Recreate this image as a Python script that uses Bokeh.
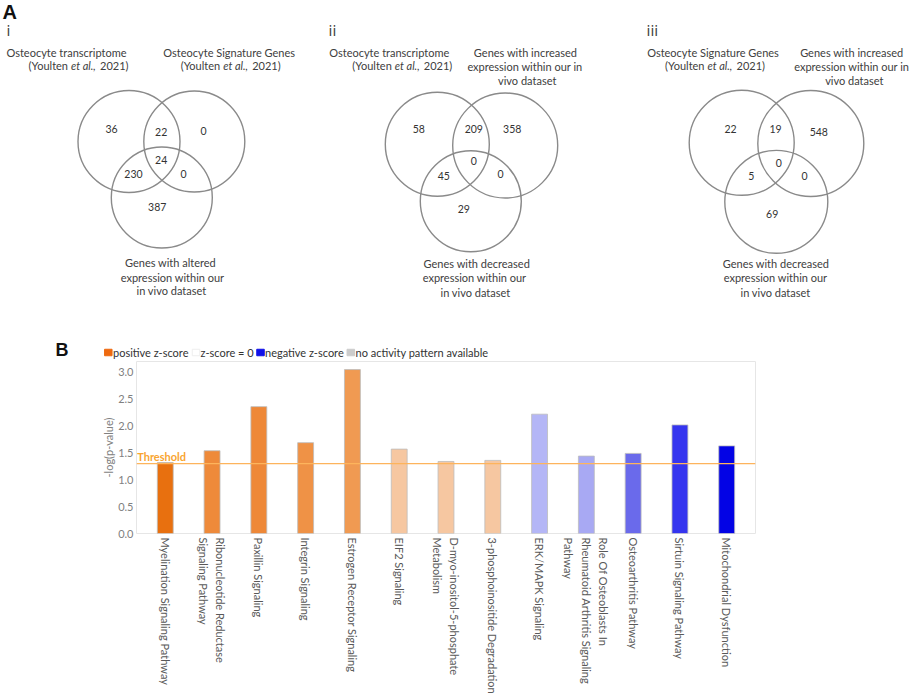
from bokeh.plotting import figure
from bokeh.models import Range1d, FactorRange, FixedTicker, PrintfTickFormatter, Span, Label, ColumnDataSource
from bokeh.core.properties import value
from bokeh.embed import file_html
from bokeh.resources import INLINE

# ---------------- data ----------------
# Venn region counts: [A only, A&B, B only, A&B&C, A&C, B&C, C only]
venn_i_counts = [36, 22, 0, 24, 230, 0, 387]
venn_ii_counts = [58, 209, 358, 0, 45, 0, 29]
venn_iii_counts = [22, 19, 548, 0, 5, 0, 69]

venn_i_sets = ["Osteocyte transcriptome", "Osteocyte Signature Genes",
               "Genes with altered\nexpression within our\nin vivo dataset"]
venn_ii_sets = ["Osteocyte transcriptome", "Genes with increased\nexpression within our in\nvivo dataset",
                "Genes with decreased\nexpression within our\nin vivo dataset"]
venn_iii_sets = ["Osteocyte Signature Genes", "Genes with increased\nexpression within our in\nvivo dataset",
                 "Genes with decreased\nexpression within our\nin vivo dataset"]

pathways = [
    "Myelination Signaling Pathway",
    "Ribonucleotide Reductase\nSignaling Pathway",
    "Paxillin Signaling",
    "Integrin Signaling",
    "Estrogen Receptor Signaling",
    "EIF2 Signaling",
    "D-myo-inositol-5-phosphate\nMetabolism",
    "3-phosphoinositide Degradation",
    "ERK/MAPK Signaling",
    "Role Of Osteoblasts In\nRheumatoid Arthritis Signaling\nPathway",
    "Osteoarthritis Pathway",
    "Sirtuin Signaling Pathway",
    "Mitochondrial Dysfunction",
]
neg_log_p = [1.32, 1.54, 2.36, 1.69, 3.05, 1.57, 1.34, 1.36, 2.22, 1.44, 1.49, 2.02, 1.63]
threshold = 1.3

legend_labels = ["positive z-score", "z-score = 0", "negative z-score", "no activity pattern available"]

# ---------------- styles ----------------
bar_colors = ["#E8700F", "#EE8A3A", "#EE8838", "#EF9246", "#F09A52", "#F6C7A1", "#F6C7A1",
              "#F6C7A1", "#B4B6F6", "#A8A9F3", "#6A6AEB", "#3535EF", "#0303E5"]
legend_colors = ["#EE6A10", "#FFFFFF", "#1010E8", "#CCCCCC"]
FONT = value("Lato")
TXT = "#404040"
NB = "\u00a0"


def centred_lines(label):
    """pad shorter lines so that multi-line tick labels look centred"""
    pads = {"Signaling Pathway": 9, "Metabolism": 18, "Role Of Osteoblasts In": 9, "Pathway": 25}
    lines = label.split("\n")
    if len(lines) == 1:
        return label
    return "\n".join(ln + NB * pads.get(ln, 0) for ln in lines)


# ---------------- top canvas (panel A + legend of B) ----------------
TOP_H = 360
top = figure(width=913, height=TOP_H, x_range=Range1d(0, 913), y_range=Range1d(TOP_H, 0),
             x_axis_type=None, y_axis_type=None, output_backend="svg", toolbar_location=None,
             min_border=0, outline_line_color=None)
top.xgrid.visible = False
top.ygrid.visible = False


def txt(x, y, s, align="center", size="11px", style="normal", color=TXT, font=FONT):
    top.text(x=[x], y=[y], text=[s], text_align=align, text_baseline="middle",
             text_font=font, text_font_size=size, text_font_style=style, text_color=color)


def youlten(c, y):
    xs = c - 10
    txt(xs, y, "(Youlten", align="right")
    txt(xs + 3, y, "et al.,", align="left", style="italic")
    txt(xs + 32, y, "2021)", align="left")


def panel(roman, rx, circles, counts, count_pos, sets, set_pos):
    txt(rx, 30, roman, align="left", size="14px", font=value("DejaVu Sans"))
    top.circle(x=[c[0] for c in circles], y=[c[1] for c in circles], radius=[c[2] for c in circles],
               fill_color=None, line_color="#8a8a8a", line_width=1.4)
    top.text(x=[p[0] for p in count_pos], y=[p[1] for p in count_pos], text=[str(v) for v in counts],
             text_align="center", text_baseline="middle", text_font=FONT, text_font_size="10.5px",
             text_color="#333333")
    for s, pos in zip(sets, set_pos):
        lines = s.split("\n")
        for ln, (x, y) in zip(lines, pos):
            txt(x, y, ln)


txt(2, 11.5, "A", align="left", size="20px", style="bold", font=value("Liberation Sans"), color="#111111")

# panel i
panel("i", 6, [(128.5, 141, 51), (193.8, 141, 50.5), (161.3, 197, 50.5)], venn_i_counts,
      [(111, 128), (160.7, 131.7), (203, 130), (160.7, 159.3), (133, 173.3), (183, 173.3), (156.7, 206.7)],
      venn_i_sets, [[(66, 51.7)], [(228.7, 51.7)], [(170, 261.7), (172, 276.7), (171, 290)]])
youlten(77.5, 65)
youlten(229.7, 65)

# panel ii
panel("ii", 328, [(436.8, 143.8, 52), (504.7, 145, 52.5), (470.3, 200.8, 50.5)], venn_ii_counts,
      [(418.3, 128.3), (473.3, 128.3), (511.7, 128.3), (473.3, 160), (443.3, 175.7), (500, 173.3), (463.3, 208.3)],
      venn_ii_sets, [[(388.8, 51.7)], [(525, 51.7), (524.5, 65.5), (526.7, 80)],
                     [(476.3, 263.3), (474, 277.3), (475, 292.3)]])
youlten(401.3, 65)

# panel iii
panel("iii", 646, [(741.2, 142.3, 52.5), (810.3, 143, 53), (775.8, 201.3, 51.5)], venn_iii_counts,
      [(730, 128.3), (775, 128.3), (818.3, 131.7), (778.3, 162.7), (750.7, 175.7), (804, 175.7), (771.7, 213.3)],
      venn_iii_sets, [[(712.5, 51.7)], [(851.3, 51.7), (851.3, 65.5), (853.8, 80)],
                      [(775.5, 263.3), (775, 277.3), (775, 292)]])
youlten(714, 65)

# panel B letter and legend
txt(55, 349.5, "B", align="left", size="18px", style="bold", font=value("Liberation Sans"), color="#111111")
leg_sq_x = [107.8, 195.5, 260, 350.3]
leg_tx_x = [112.5, 200, 264.5, 355]
top.rect(x=leg_sq_x, y=[352] * 4, width=7.5, height=6.5, fill_color=legend_colors,
         line_color=["#EE6A10", "#EEEEEE", "#1010E8", "#CCCCCC"])
top.text(x=leg_tx_x, y=[352] * 4, text=legend_labels, text_align="left", text_baseline="middle",
         text_font=FONT, text_font_size="11px", text_color="#333333")

# ---------------- bar chart ----------------
src = ColumnDataSource(dict(path=pathways, val=neg_log_p, color=bar_colors))
p = figure(x_range=FactorRange(factors=pathways, range_padding=0.115, range_padding_units="absolute"),
           y_range=Range1d(0, 3.2), width=913, height=696 - TOP_H,
           min_border_left=136, min_border_right=158, min_border_top=1, min_border_bottom=163,
           output_backend="svg", toolbar_location=None)
p.vbar(x="path", top="val", width=0.34, source=src, fill_color="color", line_color="#BDBDBD", line_width=0.8)
p.xgrid.visible = False
p.ygrid.visible = False
p.outline_line_color = "#E6E6E6"
p.outline_line_width = 1

p.yaxis.ticker = FixedTicker(ticks=[0, 0.5, 1.0, 1.5, 2.0, 2.5, 3.0])
p.yaxis.formatter = PrintfTickFormatter(format="%.1f")
p.yaxis.axis_label = "-log(p-value)"
p.yaxis.axis_label_text_font_style = "normal"
p.yaxis.axis_label_text_font = "Lato"
p.yaxis.axis_label_text_font_size = "11px"
p.yaxis.axis_label_text_color = "#808080"
p.yaxis.axis_label_standoff = 0
p.yaxis.major_label_text_font = "Lato"
p.yaxis.major_label_text_font_size = "11px"
p.yaxis.major_label_text_color = "#808080"
p.yaxis.major_label_standoff = 3

for ax in (p.xaxis, p.yaxis):
    ax.axis_line_color = None
    ax.major_tick_line_color = None
    ax.minor_tick_line_color = None
    ax.major_tick_out = 0
    ax.major_tick_in = 0
    ax.minor_tick_out = 0
    ax.minor_tick_in = 0

p.xaxis.major_label_orientation = "vertical"
p.xaxis.major_label_text_font = "Lato"
p.xaxis.major_label_text_font_size = "11px"
p.xaxis.major_label_text_line_height = 1.35
p.xaxis.major_label_text_color = "#595959"
p.xaxis.major_label_standoff = 4
p.xaxis.major_label_overrides = {f: centred_lines(f) for f in pathways}

p.add_layout(Span(location=threshold, dimension="width", line_color="#FDB45C", line_width=1.2))
p.add_layout(Label(x=-0.1, y=threshold, y_offset=1, text="Threshold", text_align="left", text_baseline="bottom",
                   text_font="Lato", text_font_size="11px", text_font_style="bold", text_color="#F9A531"))

open("out.html", "w").write(file_html([top, p], INLINE))
